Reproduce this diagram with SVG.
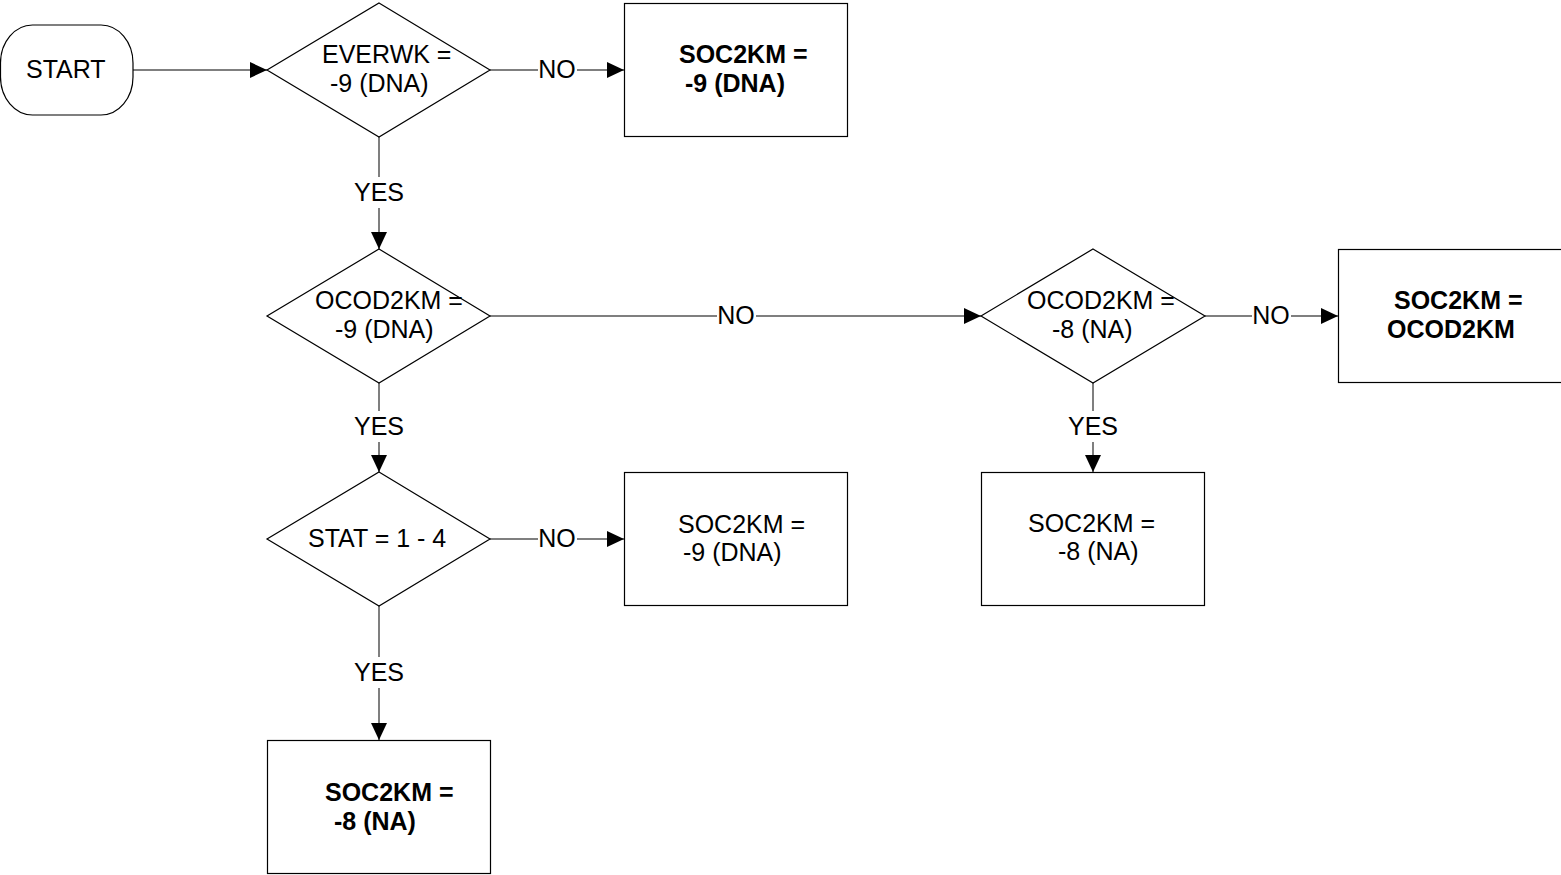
<svg xmlns="http://www.w3.org/2000/svg" width="1561" height="875" viewBox="0 0 1561 875">
<style>
.shape{fill:#fff;stroke:#000;stroke-width:1.2}
.conn{stroke:#555;stroke-width:1.5;fill:none}
.t{font-family:"Liberation Sans",Arial,sans-serif;font-size:25px;fill:#000}
.b{font-weight:bold}
.lblbg{fill:#fff;stroke:none}
</style>
<defs>
<marker id="arr" markerUnits="userSpaceOnUse" markerWidth="17" markerHeight="16" refX="17" refY="8" orient="auto">
<path d="M0,0 L17,8 L0,16 Z" fill="#000"/>
</marker>
</defs>
<rect width="1561" height="875" fill="#fff"/>
<g id="connectors">
<line class="conn" x1="133" y1="70" x2="267" y2="70" marker-end="url(#arr)"/>
<line class="conn" x1="490" y1="70" x2="624" y2="70" marker-end="url(#arr)"/>
<line class="conn" x1="379" y1="137" x2="379" y2="249" marker-end="url(#arr)"/>
<line class="conn" x1="490" y1="316" x2="981" y2="316" marker-end="url(#arr)"/>
<line class="conn" x1="1205" y1="316" x2="1338" y2="316" marker-end="url(#arr)"/>
<line class="conn" x1="1093" y1="383" x2="1093" y2="472" marker-end="url(#arr)"/>
<line class="conn" x1="379" y1="383" x2="379" y2="472" marker-end="url(#arr)"/>
<line class="conn" x1="490" y1="539" x2="624" y2="539" marker-end="url(#arr)"/>
<line class="conn" x1="379" y1="606" x2="379" y2="740" marker-end="url(#arr)"/>
<rect class="lblbg" x="538" y="58" width="39" height="24"/>
<text class="t" x="557" y="78" text-anchor="middle">NO</text>
<rect class="lblbg" x="717" y="304" width="39" height="24"/>
<text class="t" x="736" y="324" text-anchor="middle">NO</text>
<rect class="lblbg" x="1252" y="304" width="39" height="24"/>
<text class="t" x="1271" y="324" text-anchor="middle">NO</text>
<rect class="lblbg" x="538" y="527" width="39" height="24"/>
<text class="t" x="557" y="547" text-anchor="middle">NO</text>
<rect class="lblbg" x="352" y="177" width="54" height="31"/>
<text class="t" x="379" y="201" text-anchor="middle">YES</text>
<rect class="lblbg" x="352" y="411" width="54" height="31"/>
<text class="t" x="379" y="435" text-anchor="middle">YES</text>
<rect class="lblbg" x="352" y="657" width="54" height="31"/>
<text class="t" x="379" y="681" text-anchor="middle">YES</text>
<rect class="lblbg" x="1066" y="411" width="54" height="31"/>
<text class="t" x="1093" y="435" text-anchor="middle">YES</text>
</g>
<g id="start">
<rect class="shape" x="0.5" y="25" width="132.5" height="90" rx="32" ry="38"/>
<text class="t" x="26" y="78">START</text>
</g>
<g id="d1">
<polygon class="shape" points="379,3 490,70 379,137 267,70"/>
<text class="t" x="322" y="63">EVERWK =</text>
<text class="t" x="330" y="92">-9 (DNA)</text>
</g>
<g id="box1">
<rect class="shape" x="624.5" y="3.5" width="223" height="133"/>
<text class="t b" x="679" y="63">SOC2KM =</text>
<text class="t b" x="685" y="92">-9 (DNA)</text>
</g>
<g id="d2">
<polygon class="shape" points="379,249 490,316 379,383 267,316"/>
<text class="t" x="315" y="309">OCOD2KM =</text>
<text class="t" x="335" y="338">-9 (DNA)</text>
</g>
<g id="d3">
<polygon class="shape" points="1093,249 1205,316 1093,383 981,316"/>
<text class="t" x="1027" y="309">OCOD2KM =</text>
<text class="t" x="1052" y="338">-8 (NA)</text>
</g>
<g id="box4">
<rect class="shape" x="1338.5" y="249.5" width="240" height="133"/>
<text class="t b" x="1394" y="309">SOC2KM =</text>
<text class="t b" x="1387" y="338">OCOD2KM</text>
</g>
<g id="d4">
<polygon class="shape" points="379,472 490,539 379,606 267,539"/>
<text class="t" x="308" y="547">STAT = 1 - 4</text>
</g>
<g id="box3">
<rect class="shape" x="624.5" y="472.5" width="223" height="133"/>
<text class="t" x="678" y="533">SOC2KM =</text>
<text class="t" x="683" y="561">-9 (DNA)</text>
</g>
<g id="box5">
<rect class="shape" x="981.5" y="472.5" width="223" height="133"/>
<text class="t" x="1028" y="532">SOC2KM =</text>
<text class="t" x="1058" y="560">-8 (NA)</text>
</g>
<g id="box6">
<rect class="shape" x="267.5" y="740.5" width="223" height="133"/>
<text class="t b" x="325" y="801">SOC2KM =</text>
<text class="t b" x="334" y="830">-8 (NA)</text>
</g>
</svg>
